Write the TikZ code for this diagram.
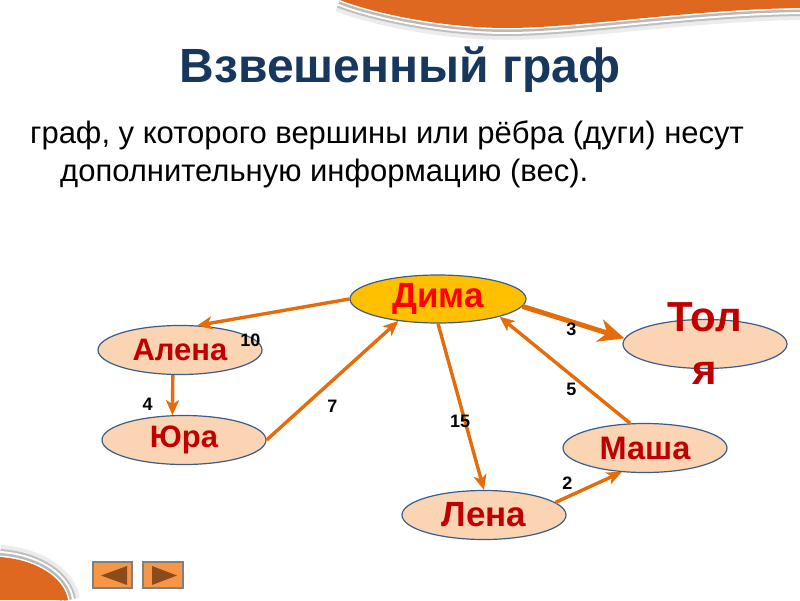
\documentclass[tikz,border=0pt]{standalone}
\usepackage{fontspec}
\setmainfont{Liberation Sans}
\usetikzlibrary{shapes.geometric,arrows.meta}

\definecolor{accent}{RGB}{228,108,10}
\definecolor{peach}{RGB}{251,212,180}
\definecolor{gold}{RGB}{255,192,0}
\definecolor{edgeblue}{RGB}{56,93,138}
\definecolor{navy}{RGB}{23,55,94}
\definecolor{darkred}{RGB}{192,0,0}
\definecolor{wave}{RGB}{222,104,32}
\definecolor{btn}{RGB}{247,150,70}
\definecolor{btnarrow}{RGB}{140,75,30}

\begin{document}
\begin{tikzpicture}[x=1pt,y=-1pt,>={Stealth[length=15pt,width=13pt,inset=4pt]},
    main node/.style={ellipse,draw=edgeblue,line width=1.2pt,fill=peach,text=darkred,inner sep=0pt,minimum width=164pt,minimum height=49pt,font=\bfseries\fontsize{31}{33}\selectfont},
    every edge/.append style={draw=accent,line width=3.4pt}]
            \useasboundingbox (0,0) rectangle (800,600);

            % slide decoration
            \foreach \w/\c in {24/gray!15,16/gray!50,12/white,8/gray!55,3/white}
                \draw[line width=\w pt,\c] (340,0) .. controls (370,12) and (440,28) .. (507,28) .. controls (580,28) and (700,8) .. (810,8);
            \fill[wave] (340,0) .. controls (370,12) and (440,28) .. (507,28) .. controls (580,28) and (700,8) .. (810,8) -- (810,0) -- cycle;
            \foreach \w/\c in {24/gray!15,16/gray!50,12/white,8/gray!55,3/white}
                \draw[line width=\w pt,\c] (0,557) .. controls (40,560) and (65,580) .. (68,600);
            \fill[wave] (0,557) .. controls (40,560) and (65,580) .. (68,600) -- (0,600) -- cycle;
            \filldraw[fill=btn,draw=gray,line width=1.5pt] (93,562) rectangle (132,588) (143,562) rectangle (183,588);
            \fill[btnarrow] (101,575.5) -- (127,566) -- (127,585) -- cycle (152,566) -- (152,585) -- (177,575.5) -- cycle;

            % texts
            \node[text=navy,font=\bfseries\fontsize{48}{50}\selectfont] (title) at (400,82) [anchor=base]{Взвешенный граф};
            \node[align=left,inner sep=0pt,font=\fontsize{31}{38}\selectfont] (def) at (30,121) [anchor=north west]{граф, у которого вершины или рёбра (дуги) несут\\\hspace*{30pt}дополнительную информацию (вес).};

            % graph
            \node[main node,fill=gold,text=red,minimum width=176pt,minimum height=48pt,font=\bfseries\fontsize{35}{37}\selectfont] (1) at (438,299) {Дима};
            \node[main node] (2) at (180,350) {Алена};
            \node[main node] (3) at (184,440) {Юра};
            \node[main node,label={[text=darkred,align=center,font=\bfseries\fontsize{42}{53}\selectfont]center:{Тол\\я}}] (4) at (705,344) {};
            \node[main node,font=\bfseries\fontsize{35}{37}\selectfont] (5) at (484,515) {Лена};
            \node[main node,font=\bfseries\fontsize{32.5}{34}\selectfont] (6) at (645,448) {Маша};

            \path[->,every node/.style={text=black,font=\bfseries\fontsize{18}{18}\selectfont}]
                (1.west) edge node[pos=.65,yshift=-24pt]{10} (2.55)
                (2.254) edge node[pos=.72,xshift=-25pt]{4} (3.115)
                (3.east) edge node[pos=.5,yshift=-26pt]{7} (1.209)
                (1.south) edge node[pos=.59,xshift=-5pt]{15} (5.north)
                (5.10) edge node[pos=.18,yshift=14pt]{2} (6.226)
                (6.121) edge node[pos=.45,yshift=-14pt]{5} (1.344)
                (1.355) edge[line width=5pt,-{Stealth[length=26pt,width=23pt,inset=8pt]}] node[pos=.48,yshift=-8pt]{3} (4.176)
                ;
        \end{tikzpicture}
\end{document}
